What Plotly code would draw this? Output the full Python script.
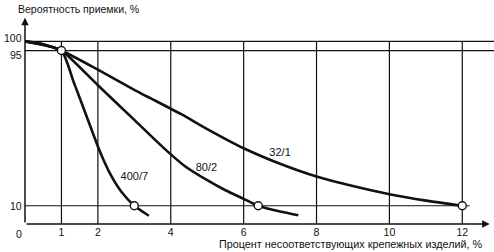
import plotly.graph_objects as go

# ---- data ----
x_400_7 = [0, 0.5, 1, 1.35, 1.7, 2.05, 2.35, 2.65, 3.0, 3.4]
y_400_7 = [100, 98.0, 95, 77, 58.5, 40, 27, 17.5, 10, 4.5]

x_80_2 = [0, 0.5, 1, 2, 3, 3.84, 4.4, 5, 5.5, 6, 6.4, 7, 7.5]
y_80_2 = [100, 98.2, 95, 76, 57, 41, 31.5, 24, 18.5, 13.8, 10, 6.8, 4.8]

x_32_1 = [0, 0.5, 1, 2, 3, 4.3, 5, 6, 7, 8, 9, 10, 11, 12]
y_32_1 = [100, 98.5, 95, 84.5, 73.5, 60, 52, 41.5, 33, 26, 20.8, 16.3, 12.8, 10]

series_names = ["400/7", "80/2", "32/1"]
label_x = [3.0, 4.98, 7.0]
label_y = [25.8, 30.8, 38.5]

marker_x = [1, 3.0, 6.4, 12]
marker_y = [95, 10, 10, 10]

x_ticks = [1, 2, 4, 6, 8, 10, 12]
y_ticks = [10, 95, 100]
y_title = "Вероятность приемки, %"
x_title = "Процент несоответствующих крепежных изделий, %"

FONT = "Liberation Sans, Arial, sans-serif"
INK = "#111111"

fig = go.Figure()
for xs, ys in [(x_400_7, y_400_7), (x_80_2, y_80_2), (x_32_1, y_32_1)]:
    fig.add_trace(go.Scatter(x=xs, y=ys, mode="lines",
                             line=dict(color=INK, width=2.6, shape="spline", smoothing=0.6),
                             hoverinfo="skip", showlegend=False))

fig.add_trace(go.Scatter(x=marker_x, y=marker_y, mode="markers",
                         marker=dict(size=8, color="white", line=dict(color=INK, width=1.4)),
                         showlegend=False, hoverinfo="skip"))

fig.add_trace(go.Scatter(x=label_x, y=label_y, text=series_names, mode="text",
                         textfont=dict(family=FONT, size=11, color=INK),
                         showlegend=False, hoverinfo="skip"))

shapes = []
for xv in x_ticks:
    shapes.append(dict(type="line", xref="x", yref="y", x0=xv, x1=xv, y0=0, y1=max(y_ticks),
                       line=dict(color=INK, width=1.2), layer="below"))
for yv in y_ticks:
    if yv >= 95:
        shapes.append(dict(type="line", xref="paper", yref="y", x0=0, x1=1, y0=yv, y1=yv,
                           line=dict(color=INK, width=1.2), layer="below"))
    else:
        shapes.append(dict(type="line", xref="x", yref="y", x0=0, x1=12.2, y0=yv, y1=yv,
                           line=dict(color=INK, width=1.2), layer="below"))

annotations = [
    # axis arrows
    dict(x=0, y=113, ax=0, ay=0, xref="x", yref="y", axref="x", ayref="y", text="",
         showarrow=True, arrowhead=2, arrowsize=1, arrowwidth=1.5, arrowcolor=INK),
    dict(x=12.75, y=0, ax=0, ay=0, xref="x", yref="y", axref="x", ayref="y", text="",
         showarrow=True, arrowhead=2, arrowsize=1, arrowwidth=1.5, arrowcolor=INK),
    dict(x=0, y=0, xref="x", yref="y", text="0", showarrow=False, xanchor="right",
         yanchor="top", xshift=-1, yshift=-2, font=dict(family=FONT, size=10.5, color=INK)),
    dict(x=-0.02, y=1.0, xref="paper", yref="paper", text=y_title, showarrow=False,
         xanchor="left", yanchor="bottom", yshift=-5, font=dict(family=FONT, size=10.5, color=INK)),
    dict(x=0.98, y=0, xref="paper", yref="paper", text=x_title, showarrow=False,
         xanchor="right", yanchor="top", yshift=-12, font=dict(family=FONT, size=10.8, color=INK)),
]
# y tick labels (placed so the tightly spaced 100 / 95 do not collide)
for yv in y_ticks:
    if yv == 100:
        anc, ys = "bottom", -5
    elif yv == 95:
        anc, ys = "top", 4
    else:
        anc, ys = "middle", 0
    annotations.append(dict(x=0, y=yv, xref="x", yref="y", text=str(yv), showarrow=False,
                            xanchor="right", yanchor=anc, xshift=-1, yshift=ys,
                            font=dict(family=FONT, size=10.5, color=INK)))

fig.update_layout(
    width=494, height=252,
    margin=dict(l=25, r=0, t=12, b=28),
    paper_bgcolor="white", plot_bgcolor="white",
    shapes=shapes, annotations=annotations,
    xaxis=dict(range=[0, 469 / 36.44], tickvals=x_ticks, ticktext=[str(v) for v in x_ticks],
               showgrid=False, zeroline=False, showline=False, ticks="",
               tickfont=dict(family=FONT, size=10.5, color=INK), fixedrange=True),
    yaxis=dict(range=[0, 212 / 1.826], showticklabels=False,
               showgrid=False, zeroline=False, showline=False, ticks="", fixedrange=True),
)

fig.write_html("out.html")
